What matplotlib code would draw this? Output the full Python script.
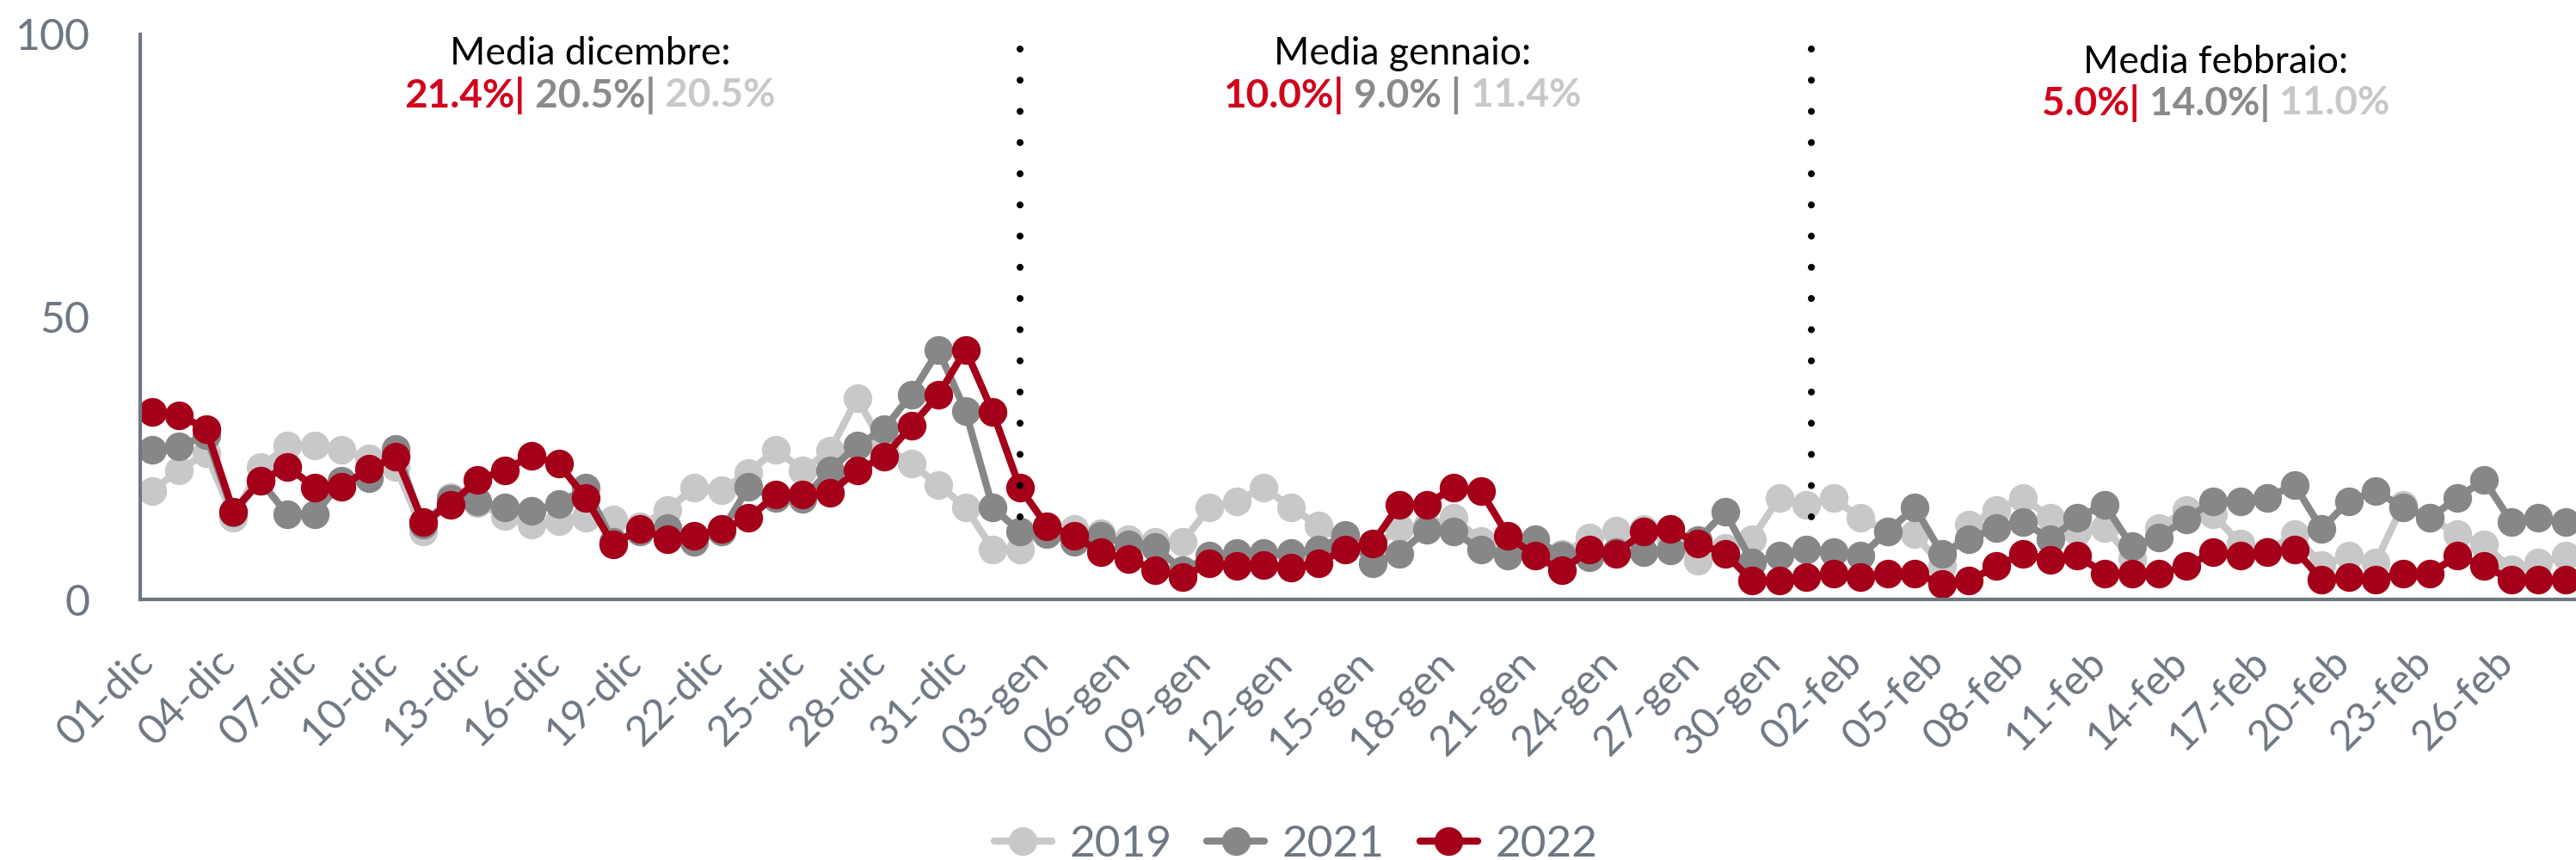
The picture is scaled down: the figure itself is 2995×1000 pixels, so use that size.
import matplotlib
matplotlib.use("Agg")
import matplotlib.pyplot as plt
from matplotlib.offsetbox import TextArea, HPacker, AnnotationBbox
from matplotlib.transforms import ScaledTranslation

plt.rcParams['font.family'] = ['Lato', 'DejaVu Sans']

# ---------------- data ----------------
months = [("dic", 31), ("gen", 31), ("feb", 28)]
categories = [f"{d:02d}-{m}" for m, n in months for d in range(1, n + 1)]

series_names = ["2019", "2021", "2022"]

values_2019 = [19.2, 22.9, 25.9, 14.5, 23.4, 27.2, 27.2, 26.5, 24.9, 23.4,
               12.0, 18.1, 17.0, 14.8, 13.2, 13.9, 14.5, 14.2, 13.0, 15.8,
               19.8, 19.4, 22.4, 26.5, 22.9, 26.3, 35.6, 27.0, 24.0, 20.3,
               16.3, 8.9, 8.9, 13.0, 12.5, 11.7, 10.7, 10.2, 10.2, 16.3,
               17.4, 19.8, 16.3, 13.1, 10.0, 9.0, 12.7, 13.0, 14.5, 10.4,
               9.0, 8.0, 8.0, 11.0, 12.2, 12.5, 11.0, 6.9, 9.2, 10.7,
               18.0, 16.8, 17.9, 14.4, 12.0, 11.5, 5.9, 13.2, 15.8, 18.0,
               14.5, 12.0, 12.7, 7.2, 12.7, 15.8, 15.0, 9.9, 8.5, 11.5,
               6.1, 7.7, 6.6, 16.8, 14.5, 11.5, 9.7, 5.4, 6.6, 7.7]

values_2021 = [26.5, 27.1, 29.0, 15.3, 21.0, 15.0, 15.0, 21.0, 21.5, 26.7,
               13.2, 17.8, 17.3, 16.3, 15.7, 16.9, 19.8, 10.2, 12.0, 12.7,
               10.2, 12.0, 19.9, 18.0, 17.8, 22.9, 27.2, 30.2, 36.3, 44.1,
               33.3, 16.3, 12.0, 11.6, 10.2, 11.3, 9.7, 9.3, 5.1, 7.7,
               8.2, 8.2, 8.2, 8.9, 11.4, 6.4, 8.1, 12.3, 12.0, 8.8,
               7.7, 10.7, 7.7, 7.4, 8.3, 8.4, 8.6, 10.5, 15.5, 6.6,
               7.7, 8.9, 8.4, 7.7, 12.0, 16.3, 8.1, 10.7, 12.6, 13.7,
               10.7, 14.4, 16.8, 9.4, 11.0, 14.2, 17.4, 17.4, 18.0, 20.3,
               12.5, 17.4, 19.2, 16.3, 14.4, 18.0, 21.1, 13.7, 14.4, 13.7]

values_2022 = [33.2, 32.6, 30.2, 15.6, 21.0, 23.5, 19.8, 20.0, 23.1, 25.3,
               13.7, 16.8, 21.1, 22.9, 25.4, 24.0, 17.9, 9.7, 12.5, 10.7,
               11.3, 12.5, 14.4, 18.5, 18.5, 18.8, 22.9, 25.2, 30.7, 36.2,
               44.2, 33.2, 19.8, 13.0, 11.3, 8.3, 7.2, 5.2, 4.0, 6.4,
               5.9, 6.1, 5.7, 6.4, 8.9, 9.9, 16.8, 16.8, 19.8, 19.2,
               11.3, 7.7, 5.1, 8.8, 8.1, 12.0, 12.5, 9.9, 8.1, 3.3,
               3.3, 3.9, 4.6, 4.0, 4.6, 4.6, 2.8, 3.3, 5.9, 8.1,
               7.0, 7.7, 4.6, 4.6, 4.6, 5.9, 8.3, 7.7, 8.3, 8.9,
               3.5, 4.0, 3.5, 4.6, 4.6, 7.7, 5.9, 3.5, 3.5, 3.5]

month_titles = ["Media dicembre:", "Media gennaio:", "Media febbraio:"]
month_means = [["21.4%|", " 20.5%|", " 20.5%"],
               ["10.0%|", " 9.0% |", " 11.4%"],
               ["5.0%|", " 14.0%|", " 11.0%"]]

# ---------------- styles ----------------
RED = "#A50019"
DARK = "#878787"
LIGHT = "#C8C8C8"
AXIS_COL = "#6E7782"
ANN_COLORS = ["#D0021B", "#8A8A8A", "#C8C8C8"]
ANN_WEIGHTS = ["bold", "bold", "bold"]

fig = plt.figure(figsize=(29.95, 10), dpi=100)
ax = fig.add_axes([163 / 2995, 0.303, 1 - 163 / 2995, 0.657])

x = list(range(len(categories)))
for vals, col, name in [(values_2019, LIGHT, "2019"),
                        (values_2021, DARK, "2021"),
                        (values_2022, RED, "2022")]:
    ax.plot(x, vals, color=col, lw=6, marker="o", markersize=23,
            markeredgecolor=col, label=name, solid_capstyle="round",
            clip_on=False)

ax.set_xlim(-0.434, 89.38)
ax.set_ylim(0, 100)
ax.set_yticks([0, 50, 100])
ax.tick_params(axis="y", length=0, pad=42, labelsize=36, labelcolor=AXIS_COL)

ticks = x[::3]
ax.set_xticks(ticks)
ax.set_xticklabels([categories[i] for i in ticks], rotation=45,
                   ha="right", va="top", fontsize=35, color=AXIS_COL)
ax.tick_params(axis="x", length=0, pad=36)
offset = ScaledTranslation(10 / 100, 0, fig.dpi_scale_trans)
for lab in ax.get_xticklabels():
    lab.set_transform(lab.get_transform() + offset)

for s in ["top", "right"]:
    ax.spines[s].set_visible(False)
for s in ["left", "bottom"]:
    ax.spines[s].set_color(AXIS_COL)
    ax.spines[s].set_linewidth(3)

# dotted month separators
sep_x = [32.0, 61.2]
for sx in sep_x:
    ax.plot([sx, sx], [97.4, 9.7], color="black", lw=5.8,
            linestyle=(0, (0.001, 4.5)), dash_capstyle="round", zorder=5)

# month annotations
ann_x = [16.15, 46.1, 76.1]
ann_y1 = [96.6, 96.6, 95.0]
ann_y2 = [89.2, 89.2, 87.8]
for i in range(3):
    ax.text(ann_x[i], ann_y1[i], month_titles[i], ha="center", va="center",
            fontsize=32, color="black")
    parts = [TextArea(t, textprops=dict(color=c, fontsize=33, fontweight=w))
             for t, c, w in zip(month_means[i], ANN_COLORS, ANN_WEIGHTS)]
    box = HPacker(children=parts, align="center", pad=0, sep=0)
    ab = AnnotationBbox(box, (ann_x[i], ann_y2[i]), xycoords="data",
                        frameon=False, box_alignment=(0.5, 0.5), pad=0)
    ax.add_artist(ab)

leg = fig.legend(loc="center", bbox_to_anchor=(0.503, 0.018), ncol=3,
                 frameon=False, fontsize=37, handlelength=1.3,
                 handletextpad=0.4, columnspacing=0.8, labelcolor=AXIS_COL)

fig.savefig("out.png", dpi=100)
